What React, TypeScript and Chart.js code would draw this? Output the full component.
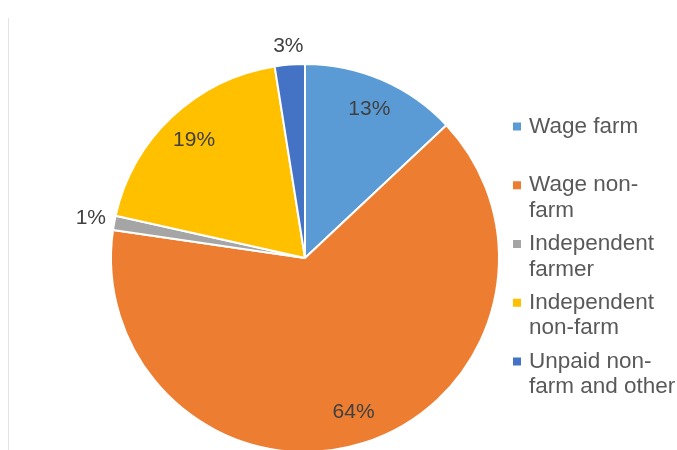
import React, { useEffect, useRef } from "react";
import { Chart, registerables } from "chart.js";

Chart.register(...registerables);

const categories = [
  ["Wage farm"],
  ["Wage non-", "farm"],
  ["Independent", "farmer"],
  ["Independent", "non-farm"],
  ["Unpaid non-", "farm and other"],
];
const shares = [13.0, 64.3, 1.2, 19.0, 2.5];
const shareLabels = ["13%", "64%", "1%", "19%", "3%"];
const colors = ["#5B9BD5", "#ED7D31", "#A5A5A5", "#FFC000", "#4472C4"];

const FONT = "'Liberation Sans', Arial, sans-serif";

const labelPlugin = {
  id: "sliceLabels",
  afterDatasetsDraw(chart: any) {
    const ctx = chart.ctx;
    const meta = chart.getDatasetMeta(0);
    ctx.save();
    ctx.font = `21px ${FONT}`;
    ctx.fillStyle = "#404040";
    ctx.textAlign = "center";
    ctx.textBaseline = "middle";
    meta.data.forEach((arc: any, i: number) => {
      const p = arc.getProps(["x", "y", "startAngle", "endAngle", "outerRadius"], true);
      const mid = (p.startAngle + p.endAngle) / 2;
      const text = shareLabels[i];
      const w = ctx.measureText(text).width;
      let d;
      if (shares[i] < 5) {
        d = p.outerRadius + 7 + Math.abs(Math.cos(mid)) * (w / 2) + Math.abs(Math.sin(mid)) * 10;
      } else {
        d = p.outerRadius * 0.835;
      }
      ctx.fillText(text, p.x + Math.cos(mid) * d, p.y + Math.sin(mid) * d);
    });
    ctx.restore();
  },
};

const legendPlugin = {
  id: "wrapLegend",
  afterDraw(chart: any) {
    const ctx = chart.ctx;
    const area = chart.chartArea;
    const boxX = area.right + 13;
    const textX = area.right + 29;
    const firstY = 126.5;
    const pitch = 58.75;
    const lineH = 25.5;
    ctx.save();
    ctx.font = `22.5px ${FONT}`;
    ctx.textAlign = "left";
    ctx.textBaseline = "middle";
    categories.forEach((lines, i) => {
      const y0 = firstY + i * pitch;
      ctx.fillStyle = colors[i];
      ctx.fillRect(boxX, y0 - 4, 8, 8);
      ctx.fillStyle = "#595959";
      lines.forEach((ln, j) => {
        ctx.fillText(ln, textX, y0 + j * lineH);
      });
    });
    ctx.restore();
  },
};

export default function App() {
  const ref = useRef<HTMLCanvasElement | null>(null);

  useEffect(() => {
    document.body.style.margin = "0";
    document.body.style.overflow = "hidden";
    const canvas = ref.current;
    if (!canvas) return;
    const chart = new Chart(canvas, {
      type: "pie",
      data: {
        labels: categories.map((c) => c.join(" ")),
        datasets: [
          {
            data: shares,
            backgroundColor: colors,
            borderColor: "#FFFFFF",
            borderWidth: 2,
          },
        ],
      },
      options: {
        responsive: false,
        animation: false,
        devicePixelRatio: 1,
        layout: { padding: { left: 110, right: 177, top: 62, bottom: 26 } },
        plugins: {
          legend: { display: false },
          tooltip: { enabled: false },
          title: { display: false },
        },
      },
      plugins: [labelPlugin, legendPlugin],
    });
    return () => chart.destroy();
  }, []);

  return (
    <div
      style={{
        position: "fixed",
        left: 0,
        top: 0,
        width: 677,
        height: 450,
        overflow: "hidden",
        background: "#FFFFFF",
      }}
    >
      <div
        style={{
          position: "absolute",
          left: 8,
          top: 18,
          width: 0,
          height: 440,
          borderLeft: "1px solid #E4E4E4",
        }}
      />
      <canvas
        ref={ref}
        width={677}
        height={480}
        style={{ position: "absolute", left: 0, top: 0, width: 677, height: 480 }}
      />
    </div>
  );
}
